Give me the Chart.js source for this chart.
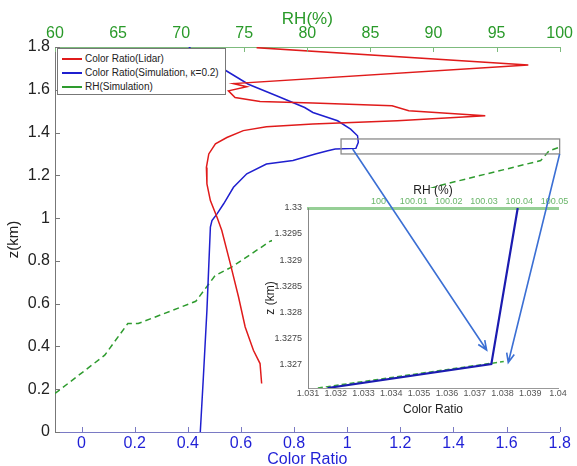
<!DOCTYPE html>
<html>
<head>
<meta charset="utf-8">
<title>Color ratio and RH profiles</title>
<script src="https://cdn.jsdelivr.net/npm/chart.js@4.4.0/dist/chart.umd.min.js"></script>
<style>
  html, body { margin: 0; padding: 0; background: #fff; }
  #wrap { position: relative; width: 577px; height: 466px; overflow: hidden;
          font-family: 'Liberation Sans', Arial, sans-serif; }
  #main   { position: absolute; left: 0; top: 0; }
  #inset  { position: absolute; left: 262px; top: 178px; }
  #arrows { position: absolute; left: 0; top: 0; pointer-events: none; }
  #legend { position: absolute; left: 57px; top: 48px; width: 167px; height: 42px;
            padding-top: 3px; border: 1px solid #777; background: #fff;
            font-size: 10px; color: #222; }
  #legend .row { height: 14px; line-height: 14px; white-space: nowrap; }
  #legend .sw  { display: inline-block; width: 20px; height: 2px;
                 vertical-align: middle; margin: 0 3px 0 4px; }
</style>
</head>
<body>
<div id="wrap">
  <canvas id="main" width="577" height="466"></canvas>
  <div id="legend">
    <div class="row"><span class="sw" style="background:#e01b1b"></span>Color Ratio(Lidar)</div>
    <div class="row"><span class="sw" style="background:#1f1fcf"></span>Color Ratio(Simulation, κ=0.2)</div>
    <div class="row"><span class="sw" style="background:#2e9b2e"></span>RH(Simulation)</div>
  </div>
  <canvas id="inset" width="315" height="242"></canvas>
  <canvas id="arrows" width="577" height="466"></canvas>
</div>
<script>
/* ── Axis ticks ──────────────────────────────────────────────── */
const CR_TICKS = [0, 0.2, 0.4, 0.6, 0.8, 1, 1.2, 1.4, 1.6, 1.8];
const RH_TICKS = [60, 65, 70, 75, 80, 85, 90, 95, 100];
const Z_TICKS  = [0, 0.2, 0.4, 0.6, 0.8, 1, 1.2, 1.4, 1.6, 1.8];

/* ── Main profiles ───────────────────────────────────────────── */
const LIDAR_Z  = [1.797, 1.716, 1.629, 1.614, 1.595, 1.564, 1.545, 1.538, 1.525, 1.502, 1.479, 1.455,
                  1.440, 1.427, 1.409, 1.377, 1.347, 1.300, 1.237, 1.160, 1.082, 1.004, 0.942, 0.787,
                  0.631, 0.491, 0.382, 0.320, 0.227];
const LIDAR_CR = [0.659, 1.682, 0.572, 0.622, 0.553, 0.578, 0.672, 0.871, 1.169, 1.232, 1.520, 1.189,
                  0.871, 0.696, 0.609, 0.547, 0.504, 0.479, 0.470, 0.472, 0.485, 0.510, 0.528, 0.560,
                  0.591, 0.616, 0.647, 0.672, 0.678];

const SIM_Z  = [0.0, 0.243, 0.569, 0.958, 0.989, 1.020, 1.067, 1.144, 1.207, 1.253, 1.269, 1.300,
                1.315, 1.323, 1.326, 1.354, 1.385, 1.416, 1.455, 1.494, 1.517, 1.572, 1.626, 1.696,
                1.782, 1.80];
const SIM_CR = [0.447, 0.458, 0.472, 0.485, 0.491, 0.510, 0.535, 0.572, 0.622, 0.696, 0.796, 0.880,
                0.927, 0.955, 1.033, 1.042, 1.039, 1.013, 0.964, 0.871, 0.840, 0.734, 0.628, 0.535,
                0.422, 0.404];

const RH_Z   = [0.18, 0.359, 0.507, 0.507, 0.611, 0.732, 0.771, 0.892, 1.152, 1.269, 1.315, 1.331];
const RH_SIM = [60.0, 63.94, 65.77, 66.6, 71.16, 72.7, 74.0, 77.06, 90.45, 98.5, 99.17, 99.97];

/* ── Inset (zoom near z = 1.327 km) ──────────────────────────── */
const INSET_CR_TICKS = [1.031, 1.032, 1.033, 1.034, 1.035, 1.036, 1.037, 1.038, 1.039, 1.04];
const INSET_RH_TICKS = [100, 100.01, 100.02, 100.03, 100.04, 100.05];
const INSET_Z_TICKS  = [1.327, 1.3275, 1.328, 1.3285, 1.329, 1.3295, 1.33];

const INSET_SIM_Z  = [1.32654, 1.3270, 1.3300];
const INSET_SIM_CR = [1.0317, 1.0376, 1.03855];
const INSET_RH_Z   = [1.32654, 1.32705];
const INSET_RH     = [99.9828, 100.0356];

/* zoom box on the main plot and the two arrows pointing into the inset */
const ZOOM_BOX = { cr: [0.977, 1.8], z: [1.30, 1.37] };
const ARROWS = [
  { from: [1.0206, 1.323], to: [1.03743, 1.32727] },
  { from: [1.8, 1.30],     to: [1.03821, 1.32703] },
];

const FONT = "'Liberation Sans', Arial, sans-serif";
Chart.defaults.font.family = FONT;

const pts = (xs, ys) => xs.map((x, i) => ({ x, y: ys[i] }));
const fixTicks = arr => s => { s.ticks = arr.map(v => ({ value: v })); };
const fmt = d => v => String(Number(v.toFixed(d)));

/* ── Plugins ─────────────────────────────────────────────────── */
const inwardTicks = {
  id: 'inwardTicks',
  afterDraw(chart, args, opts) {
    const { ctx, chartArea: a } = chart;
    ctx.save();
    ctx.lineWidth = 1;
    Object.entries(opts.scales || {}).forEach(([id, spec]) => {
      const s = chart.scales[id];
      ctx.strokeStyle = spec.color;
      s.ticks.forEach(t => {
        const p = Math.round(s.getPixelForValue(t.value)) + 0.5;
        ctx.beginPath();
        if (s.axis === 'y')            { ctx.moveTo(a.left, p);   ctx.lineTo(a.left + spec.len, p); }
        else if (s.position === 'top') { ctx.moveTo(p, a.top);    ctx.lineTo(p, a.top + spec.len); }
        else                           { ctx.moveTo(p, a.bottom); ctx.lineTo(p, a.bottom - spec.len); }
        ctx.stroke();
      });
    });
    ctx.restore();
  },
};

const zoomBox = {
  id: 'zoomBox',
  afterDatasetsDraw(chart) {
    const { ctx, scales: { x, y } } = chart;
    const x0 = x.getPixelForValue(ZOOM_BOX.cr[0]), x1 = x.getPixelForValue(ZOOM_BOX.cr[1]);
    const y0 = y.getPixelForValue(ZOOM_BOX.z[1]),  y1 = y.getPixelForValue(ZOOM_BOX.z[0]);
    ctx.save();
    ctx.strokeStyle = '#8a8a8a';
    ctx.lineWidth = 1.3;
    ctx.strokeRect(x0, y0, x1 - x0, y1 - y0);
    ctx.restore();
  },
};

const insetBg = {
  id: 'insetBg',
  beforeDraw(chart) {
    const { ctx, width, height } = chart;
    ctx.save();
    ctx.fillStyle = '#fff';
    ctx.fillRect(10, 10, width - 10, height - 10);
    ctx.restore();
  },
};

/* ── Main chart ──────────────────────────────────────────────── */
const line = (data, color, extra) => Object.assign({
  data, borderColor: color, borderWidth: 1.5, showLine: true, fill: false,
  pointRadius: 0, tension: 0,
}, extra);

const main = new Chart(document.getElementById('main'), {
  type: 'scatter',
  data: {
    datasets: [
      line(pts(LIDAR_CR, LIDAR_Z), '#e01b1b', { label: 'Color Ratio(Lidar)' }),
      line(pts(SIM_CR, SIM_Z), '#1f1fcf', { label: 'Color Ratio(Simulation, κ=0.2)' }),
      line(pts(RH_SIM, RH_Z), '#2e9b2e', { label: 'RH(Simulation)', xAxisID: 'xTop', borderDash: [6, 4] }),
    ],
  },
  options: {
    responsive: false,
    animation: false,
    layout: { padding: { left: 0, right: 14, top: 0, bottom: 0 } },
    plugins: {
      legend: { display: false },
      tooltip: { enabled: false },
      inwardTicks: { scales: {
        x:    { color: '#7a7ac4', len: 5 },
        xTop: { color: '#7dbb7d', len: 5 },
        y:    { color: '#777',    len: 5 },
      } },
    },
    scales: {
      x: {
        type: 'linear', position: 'bottom', min: -0.1, max: 1.8,
        afterBuildTicks: fixTicks(CR_TICKS),
        afterFit: s => { s.height = 34; },
        grid: { display: false, drawTicks: false },
        border: { color: '#7a7ac4', width: 1 },
        ticks: { color: '#1f1fd6', font: { size: 16 }, padding: 2, autoSkip: false, maxRotation: 0, callback: fmt(1) },
        title: { display: true, text: 'Color Ratio', color: '#1f1fd6', font: { size: 16, lineHeight: 0.8 }, padding: 0 },
      },
      xTop: {
        type: 'linear', position: 'top', min: 60, max: 100,
        afterBuildTicks: fixTicks(RH_TICKS),
        afterFit: s => { s.height = 47; },
        grid: { display: false, drawTicks: false },
        border: { color: '#7dbb7d', width: 1 },
        ticks: { color: '#2a9a2a', font: { size: 16 }, padding: 4, autoSkip: false, maxRotation: 0, callback: fmt(0) },
        title: { display: true, text: 'RH(%)', color: '#2a9a2a', font: { size: 17 }, padding: { top: 9, bottom: 0 } },
      },
      y: {
        type: 'linear', min: 0, max: 1.8,
        afterBuildTicks: fixTicks(Z_TICKS),
        afterFit: s => { s.width = 55; },
        grid: { display: false, drawTicks: false },
        border: { color: '#777', width: 1 },
        ticks: { color: '#222', font: { size: 16 }, padding: 5, autoSkip: false, callback: fmt(1) },
        title: { display: true, text: 'z(km)', color: '#222', font: { size: 15 }, padding: { top: 5, bottom: 0 } },
      },
    },
  },
  plugins: [inwardTicks, zoomBox],
});

/* ── Inset chart ─────────────────────────────────────────────── */
const inset = new Chart(document.getElementById('inset'), {
  type: 'scatter',
  data: {
    datasets: [
      line(pts(INSET_SIM_CR, INSET_SIM_Z), '#1b1bb0', { borderWidth: 2.2 }),
      line(pts(INSET_RH, INSET_RH_Z), '#3aa83a', { xAxisID: 'xTop', borderDash: [5, 3] }),
    ],
  },
  options: {
    responsive: false,
    animation: false,
    layout: { padding: { left: 0, right: 19, top: 0, bottom: 0 } },
    plugins: { legend: { display: false }, tooltip: { enabled: false } },
    scales: {
      x: {
        type: 'linear', position: 'bottom', min: 1.031, max: 1.04,
        afterBuildTicks: fixTicks(INSET_CR_TICKS),
        afterFit: s => { s.height = 32; },
        grid: { display: false, drawTicks: false },
        border: { color: '#999', width: 1 },
        ticks: { color: '#555', font: { size: 9 }, padding: 0, autoSkip: false, maxRotation: 0, callback: fmt(3) },
        title: { display: true, text: 'Color Ratio', color: '#222', font: { size: 12 }, padding: { top: 0, bottom: 3 } },
      },
      xTop: {
        type: 'linear', position: 'top', min: 99.98, max: 100.051,
        afterBuildTicks: fixTicks(INSET_RH_TICKS),
        afterFit: s => { s.height = 30; },
        grid: { display: false, drawTicks: false },
        border: { color: '#96cf96', width: 3 },
        ticks: { color: '#6ab66a', font: { size: 9 }, padding: 1, autoSkip: false, maxRotation: 0, callback: fmt(2) },
        title: { display: true, text: 'RH (%)', color: '#222', font: { size: 12 }, padding: { top: 5, bottom: 0 } },
      },
      y: {
        type: 'linear', min: 1.32654, max: 1.33,
        afterBuildTicks: fixTicks(INSET_Z_TICKS),
        afterFit: s => { s.width = 46; },
        grid: { display: false, drawTicks: false },
        border: { color: '#888', width: 1 },
        ticks: { color: '#444', font: { size: 9 }, padding: 6, autoSkip: false, callback: fmt(4) },
        title: { display: true, text: 'z (km)', color: '#222', font: { size: 12 }, padding: { top: 1, bottom: 0 } },
      },
    },
  },
  plugins: [insetBg],
});

/* ── Arrows from the zoom box into the inset ─────────────────── */
function drawArrows() {
  const ctx = document.getElementById('arrows').getContext('2d');
  const insetEl = document.getElementById('inset');
  const ox = insetEl.offsetLeft, oy = insetEl.offsetTop;
  ctx.strokeStyle = '#3b6fd4';
  ctx.lineWidth = 1.6;
  ARROWS.forEach(({ from, to }) => {
    const x0 = main.scales.x.getPixelForValue(from[0]);
    const y0 = main.scales.y.getPixelForValue(from[1]);
    const x1 = ox + inset.scales.x.getPixelForValue(to[0]);
    const y1 = oy + inset.scales.y.getPixelForValue(to[1]);
    const ang = Math.atan2(y1 - y0, x1 - x0), head = 10, spread = 0.4;
    ctx.beginPath();
    ctx.moveTo(x0, y0);
    ctx.lineTo(x1, y1);
    ctx.moveTo(x1 - head * Math.cos(ang - spread), y1 - head * Math.sin(ang - spread));
    ctx.lineTo(x1, y1);
    ctx.lineTo(x1 - head * Math.cos(ang + spread), y1 - head * Math.sin(ang + spread));
    ctx.stroke();
  });
}
drawArrows();
</script>
</body>
</html>
